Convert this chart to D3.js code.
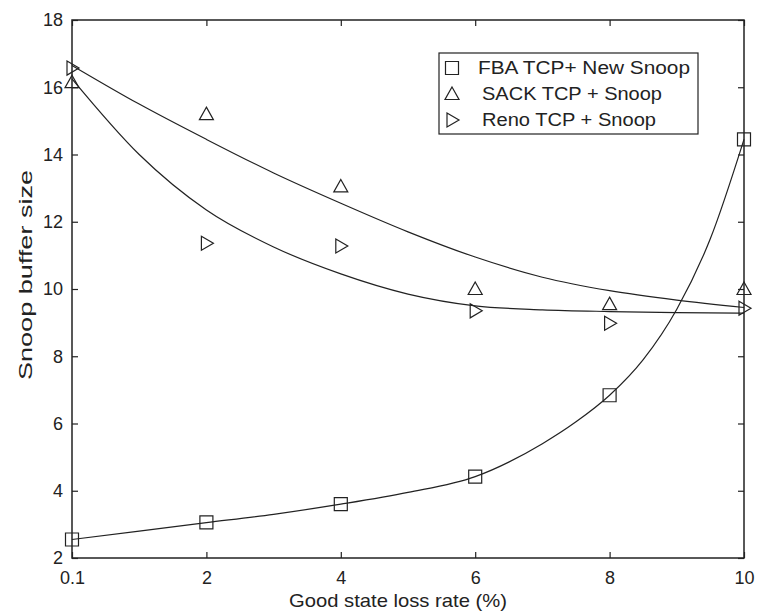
<!DOCTYPE html>
<html>
<head>
<meta charset="utf-8">
<script src="https://cdn.jsdelivr.net/npm/d3@7"></script>
<style>
  body { margin: 0; background: #fff; }
  text { font-family: "Liberation Sans", Arial, sans-serif; fill: #222; }
</style>
</head>
<body>
<div id="chart"></div>
<script>
// x positions on the axis (the first tick is labelled 0.1 but drawn at the origin)
const xPos = [0, 2, 4, 6, 8, 10];
const xTickLabels = ["0.1", "2", "4", "6", "8", "10"];
const yTicks = [2, 4, 6, 8, 10, 12, 14, 16, 18];

// measured points
const fbaPts = [2.55, 3.06, 3.6, 4.42, 6.84, 14.45];
const sackPts = [16.15, 15.2, 13.05, 10.0, 9.55, 10.0];
const renoPts = [16.57, 11.36, 11.28, 9.35, 8.98, 9.43];

// fitted curves
const fbaFitX = [0, 1, 2, 3, 4, 5, 6, 7, 7.5, 8, 8.5, 9, 9.5, 10];
const fbaFitY = [2.55, 2.8, 3.05, 3.3, 3.6, 3.95, 4.42, 5.4, 6.05, 6.84, 7.9, 9.4, 11.5, 14.45];
const sackFitX = [0, 1, 2, 3, 4, 5, 6, 7, 8, 9, 10];
const sackFitY = [16.65, 15.5, 14.45, 13.45, 12.55, 11.7, 10.95, 10.35, 9.95, 9.67, 9.45];
const renoFitX = [0, 1, 2, 3, 4, 5, 6, 7, 8, 9, 10];
const renoFitY = [16.25, 14.0, 12.35, 11.25, 10.45, 9.85, 9.5, 9.38, 9.33, 9.3, 9.28];

const legendLabels = ["FBA TCP+ New Snoop", "SACK TCP + Snoop", "Reno TCP + Snoop"];

const W = 758, H = 615;
const margin = {top: 20, right: 14, bottom: 57, left: 72};
const width = W - margin.left - margin.right;
const height = H - margin.top - margin.bottom;
const ink = "#222";

const svg = d3.select("#chart").append("svg")
    .attr("width", W)
    .attr("height", H);

const chart = svg.append("g")
    .attr("transform", "translate(" + margin.left + "," + margin.top + ")");

const x = d3.scaleLinear().domain([0, 10]).range([0, width]);
const y = d3.scaleLinear().domain([2, 18]).range([height, 0]);

// frame
chart.append("rect")
    .attr("width", width)
    .attr("height", height)
    .attr("fill", "none")
    .attr("stroke", ink)
    .attr("stroke-width", 1.5);

// inward ticks on all four sides
const tickLen = 6;
chart.append("g")
    .attr("transform", "translate(0," + height + ")")
    .call(d3.axisBottom(x).tickValues(xPos).tickSizeInner(-tickLen).tickSizeOuter(0)
      .tickPadding(13).tickFormat(function(d, i) { return xTickLabels[i]; }))
    .call(function(g) { g.select(".domain").remove(); })
    .call(function(g) {
      g.selectAll("line").attr("stroke", ink).attr("stroke-width", 1.2);
      g.selectAll("text").attr("font-size", 18).attr("fill", ink)
        .attr("font-family", "Liberation Sans, Arial, sans-serif");
    });

chart.append("g")
    .call(d3.axisTop(x).tickValues(xPos).tickSizeInner(-tickLen).tickSizeOuter(0).tickFormat(""))
    .call(function(g) { g.select(".domain").remove(); })
    .call(function(g) { g.selectAll("line").attr("stroke", ink).attr("stroke-width", 1.2); });

chart.append("g")
    .call(d3.axisLeft(y).tickValues(yTicks).tickSizeInner(-tickLen).tickSizeOuter(0)
      .tickPadding(9).tickFormat(d3.format("d")))
    .call(function(g) { g.select(".domain").remove(); })
    .call(function(g) {
      g.selectAll("line").attr("stroke", ink).attr("stroke-width", 1.2);
      g.selectAll("text").attr("font-size", 18).attr("fill", ink)
        .attr("font-family", "Liberation Sans, Arial, sans-serif");
    });

chart.append("g")
    .attr("transform", "translate(" + width + ",0)")
    .call(d3.axisRight(y).tickValues(yTicks).tickSizeInner(-tickLen).tickSizeOuter(0).tickFormat(""))
    .call(function(g) { g.select(".domain").remove(); })
    .call(function(g) { g.selectAll("line").attr("stroke", ink).attr("stroke-width", 1.2); });

// axis titles
chart.append("text")
    .attr("x", 326)
    .attr("y", height + 49)
    .attr("text-anchor", "middle")
    .attr("font-size", 19)
    .attr("textLength", 218)
    .attr("lengthAdjust", "spacingAndGlyphs")
    .text("Good state loss rate (%)");

chart.append("text")
    .attr("transform", "rotate(-90)")
    .attr("x", -255)
    .attr("y", -40)
    .attr("text-anchor", "middle")
    .attr("font-size", 19)
    .attr("textLength", 210)
    .attr("lengthAdjust", "spacingAndGlyphs")
    .text("Snoop buffer size");

// fitted curves
const line = d3.line()
    .x(function(d) { return x(d[0]); })
    .y(function(d) { return y(d[1]); })
    .curve(d3.curveMonotoneX);

const fits = [
  d3.zip(fbaFitX, fbaFitY),
  d3.zip(sackFitX, sackFitY),
  d3.zip(renoFitX, renoFitY)
];

chart.append("g").selectAll("path")
    .data(fits)
    .enter().append("path")
    .attr("d", line)
    .attr("fill", "none")
    .attr("stroke", ink)
    .attr("stroke-width", 1.2);

// marker shapes
function markerPath(kind) {
  if (kind === "square") return "M-6.5,-6.5H6.5V6.5H-6.5Z";
  if (kind === "tri") return "M0,-7L7,5.5H-7Z";
  return "M-5,-7L7,0L-5,7Z";
}
const kinds = ["square", "tri", "right"];
const series = [fbaPts, sackPts, renoPts];

series.forEach(function(vals, si) {
  chart.append("g").selectAll("path")
    .data(d3.zip(xPos, vals))
    .enter().append("path")
    .attr("transform", function(d) { return "translate(" + x(d[0]) + "," + y(d[1]) + ")"; })
    .attr("d", markerPath(kinds[si]))
    .attr("fill", "none")
    .attr("stroke", ink)
    .attr("stroke-width", 1.2);
});

// legend
const legend = svg.append("g")
    .attr("transform", "translate(439,53)");

legend.append("rect")
    .attr("width", 259)
    .attr("height", 81)
    .attr("fill", "#fff")
    .attr("stroke", ink)
    .attr("stroke-width", 1.2);

const legendLen = [212, 180, 174];
const items = legend.selectAll("g.item")
    .data(legendLabels)
    .enter().append("g")
    .attr("class", "item")
    .attr("transform", function(d, i) { return "translate(0," + (15 + i * 26) + ")"; });

items.append("path")
    .attr("transform", "translate(13,0)")
    .attr("d", function(d, i) { return markerPath(kinds[i]); })
    .attr("fill", "none")
    .attr("stroke", ink)
    .attr("stroke-width", 1.2);

items.append("text")
    .attr("x", function(d, i) { return i === 0 ? 39 : 43; })
    .attr("y", 0)
    .attr("dy", "0.35em")
    .attr("font-size", 18)
    .attr("textLength", function(d, i) { return legendLen[i]; })
    .attr("lengthAdjust", "spacingAndGlyphs")
    .text(function(d) { return d; });
</script>
</body>
</html>
